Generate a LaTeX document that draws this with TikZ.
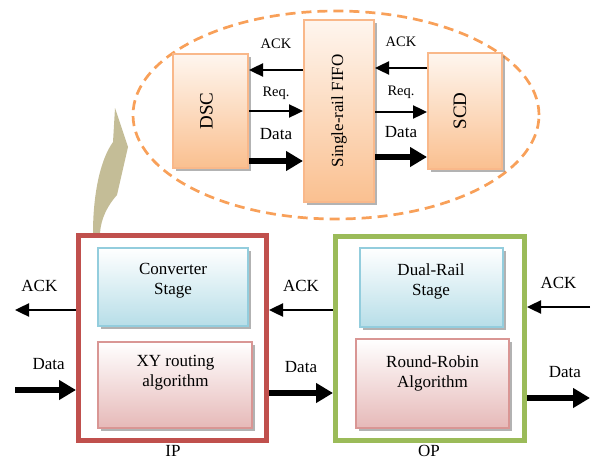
\documentclass[tikz,border=0pt]{standalone}
\usepackage{fontspec}
\setmainfont{Liberation Serif}
\usetikzlibrary{positioning, arrows.meta, shapes.geometric, shadows}
\definecolor{ipred}{HTML}{C0504D}
\definecolor{opgreen}{HTML}{9BBB59}
\definecolor{ringorange}{HTML}{F79646}
\definecolor{peach}{HTML}{FAC090}
\definecolor{peachedge}{HTML}{F9B88A}
\definecolor{stageblue}{HTML}{B7DEE8}
\definecolor{stageedge}{HTML}{93CDDD}
\definecolor{algpink}{HTML}{E6B9B8}
\definecolor{algedge}{HTML}{D99694}
\definecolor{khaki}{HTML}{C4BD97}

\begin{document}
\begin{tikzpicture}[x=1pt, y=-1pt,
  sig/.style={line width=2.4pt, -{Triangle[length=14pt,width=13pt]}},
  bus/.style={line width=6.5pt, -{Triangle[length=17pt,width=19pt]}},
  tag/.style={font=\fontsize{14.5}{16}\selectfont},
  lbl/.style={font=\fontsize{17}{20}\selectfont, align=center},
  shade/.style={drop shadow={shadow xshift=3pt, shadow yshift=-3pt, fill=gray, opacity=.6}},
  peachbox/.style={shade, draw=peachedge, line width=2pt, top color=peach!15, bottom color=peach},
  stagebox/.style={shade, draw=stageedge, line width=2pt, top color=white, bottom color=stageblue},
  algbox/.style={shade, draw=algedge, line width=2pt, top color=white, bottom color=algpink},
  unit/.style={line width=5pt, fill=white}]
\useasboundingbox (0,0) rectangle (592,460);

\node[draw=ringorange!90, dash pattern=on 10pt off 6pt, line width=2.7pt, ellipse, minimum width=406pt, minimum height=208pt] (ring) at (336,115) {};
\fill[khaki] (93,233) .. controls (93,195) and (100,160) .. (113,142) -- (115,108) -- (128,147) -- (117,195) .. controls (108,205) and (101,218) .. (100,233) -- cycle;

\node[peachbox, minimum width=75pt, minimum height=113pt] (dsc) at (210.5,111) {};
\node[peachbox, minimum width=70pt, minimum height=182pt] (fifo) at (339,111) {};
\node[peachbox, minimum width=74pt, minimum height=115pt] (scd) at (465,111) {};
\node[rotate=90, font=\fontsize{19}{22}\selectfont] (dsctext) at ([xshift=-4pt]dsc) {DSC};
\node[rotate=90, lbl] (fifotext) at (fifo) {Single-rail FIFO};
\node[rotate=90, font=\fontsize{19}{22}\selectfont] (scdtext) at ([xshift=-5pt]scd) {SCD};

\draw[sig] ([yshift=41pt]fifo.west) -- ([yshift=41pt]dsc.east) node[pos=.5, above=17pt, tag]{ACK};
\draw[sig] (dsc.east) -- (fifo.west) node[pos=.5, above=7pt, tag]{Req.};
\draw[bus] ([yshift=-50pt]dsc.east) -- ([yshift=-50pt]fifo.west) node[pos=.5, above=15pt, lbl]{Data};
\draw[sig] ([yshift=43pt]scd.west) -- ([yshift=43pt]fifo.east) node[pos=.5, above=17pt, tag]{ACK};
\draw[sig] ([yshift=-1pt]fifo.east) -- ([yshift=-1pt]scd.west) node[pos=.5, above=9pt, tag]{Req.};
\draw[bus] ([yshift=-46pt]fifo.east) -- ([yshift=-46pt]scd.west) node[pos=.5, above=13pt, lbl]{Data};

\node[draw=ipred, unit, minimum width=188pt, minimum height=205pt] (ip) at (172.5,338) {};
\node[draw=opgreen, unit, minimum width=189pt, minimum height=204pt] (op) at (430,338) {};
\node[stagebox, minimum width=150pt, minimum height=78pt] (conv) at (173,287) {};
\node[algbox, minimum width=154pt, minimum height=86pt] (xy) at (175,385) {};
\node[stagebox, minimum width=143pt, minimum height=79pt] (dual) at (431.5,287.5) {};
\node[algbox, minimum width=153pt, minimum height=89pt] (rr) at (432.5,383.5) {};
\node[lbl] (convtext) at (173,281) {Converter\\Stage};
\node[lbl] (xytext) at (175.5,373) {XY routing\\algorithm};
\node[lbl] (dualtext) at (431,281) {Dual-Rail\\Stage};
\node[lbl] (rrtext) at (432.5,373) {Round-Robin\\Algorithm};
\node[lbl, inner sep=1pt] (iplabel) at (173,451) {IP};
\node[lbl, inner sep=1pt] (oplabel) at (429,451) {OP};

\coordinate (ackout) at (15,310);
\coordinate (datain) at (15,390);
\coordinate (ackin) at (590,307);
\coordinate (dataout) at (590,398);
\draw[sig] ([yshift=28pt]ip.west) -- (ackout) node[pos=.6, above=14pt, lbl]{ACK};
\draw[bus] (datain) -- ([yshift=-52pt]ip.west) node[pos=.55, above=14pt, lbl]{Data};
\draw[sig] ([yshift=28pt]op.west) -- ([yshift=28pt]ip.east) node[pos=.5, above=14pt, lbl]{ACK};
\draw[bus] ([yshift=-55pt]ip.east) -- ([yshift=-55pt]op.west) node[pos=.5, above=14pt, lbl]{Data};
\draw[sig] (ackin) -- ([yshift=31pt]op.east) node[pos=.5, above=14pt, lbl]{ACK};
\draw[bus] ([yshift=-60pt]op.east) -- (dataout) node[pos=.6, above=14pt, lbl]{Data};
\end{tikzpicture}
\end{document}
